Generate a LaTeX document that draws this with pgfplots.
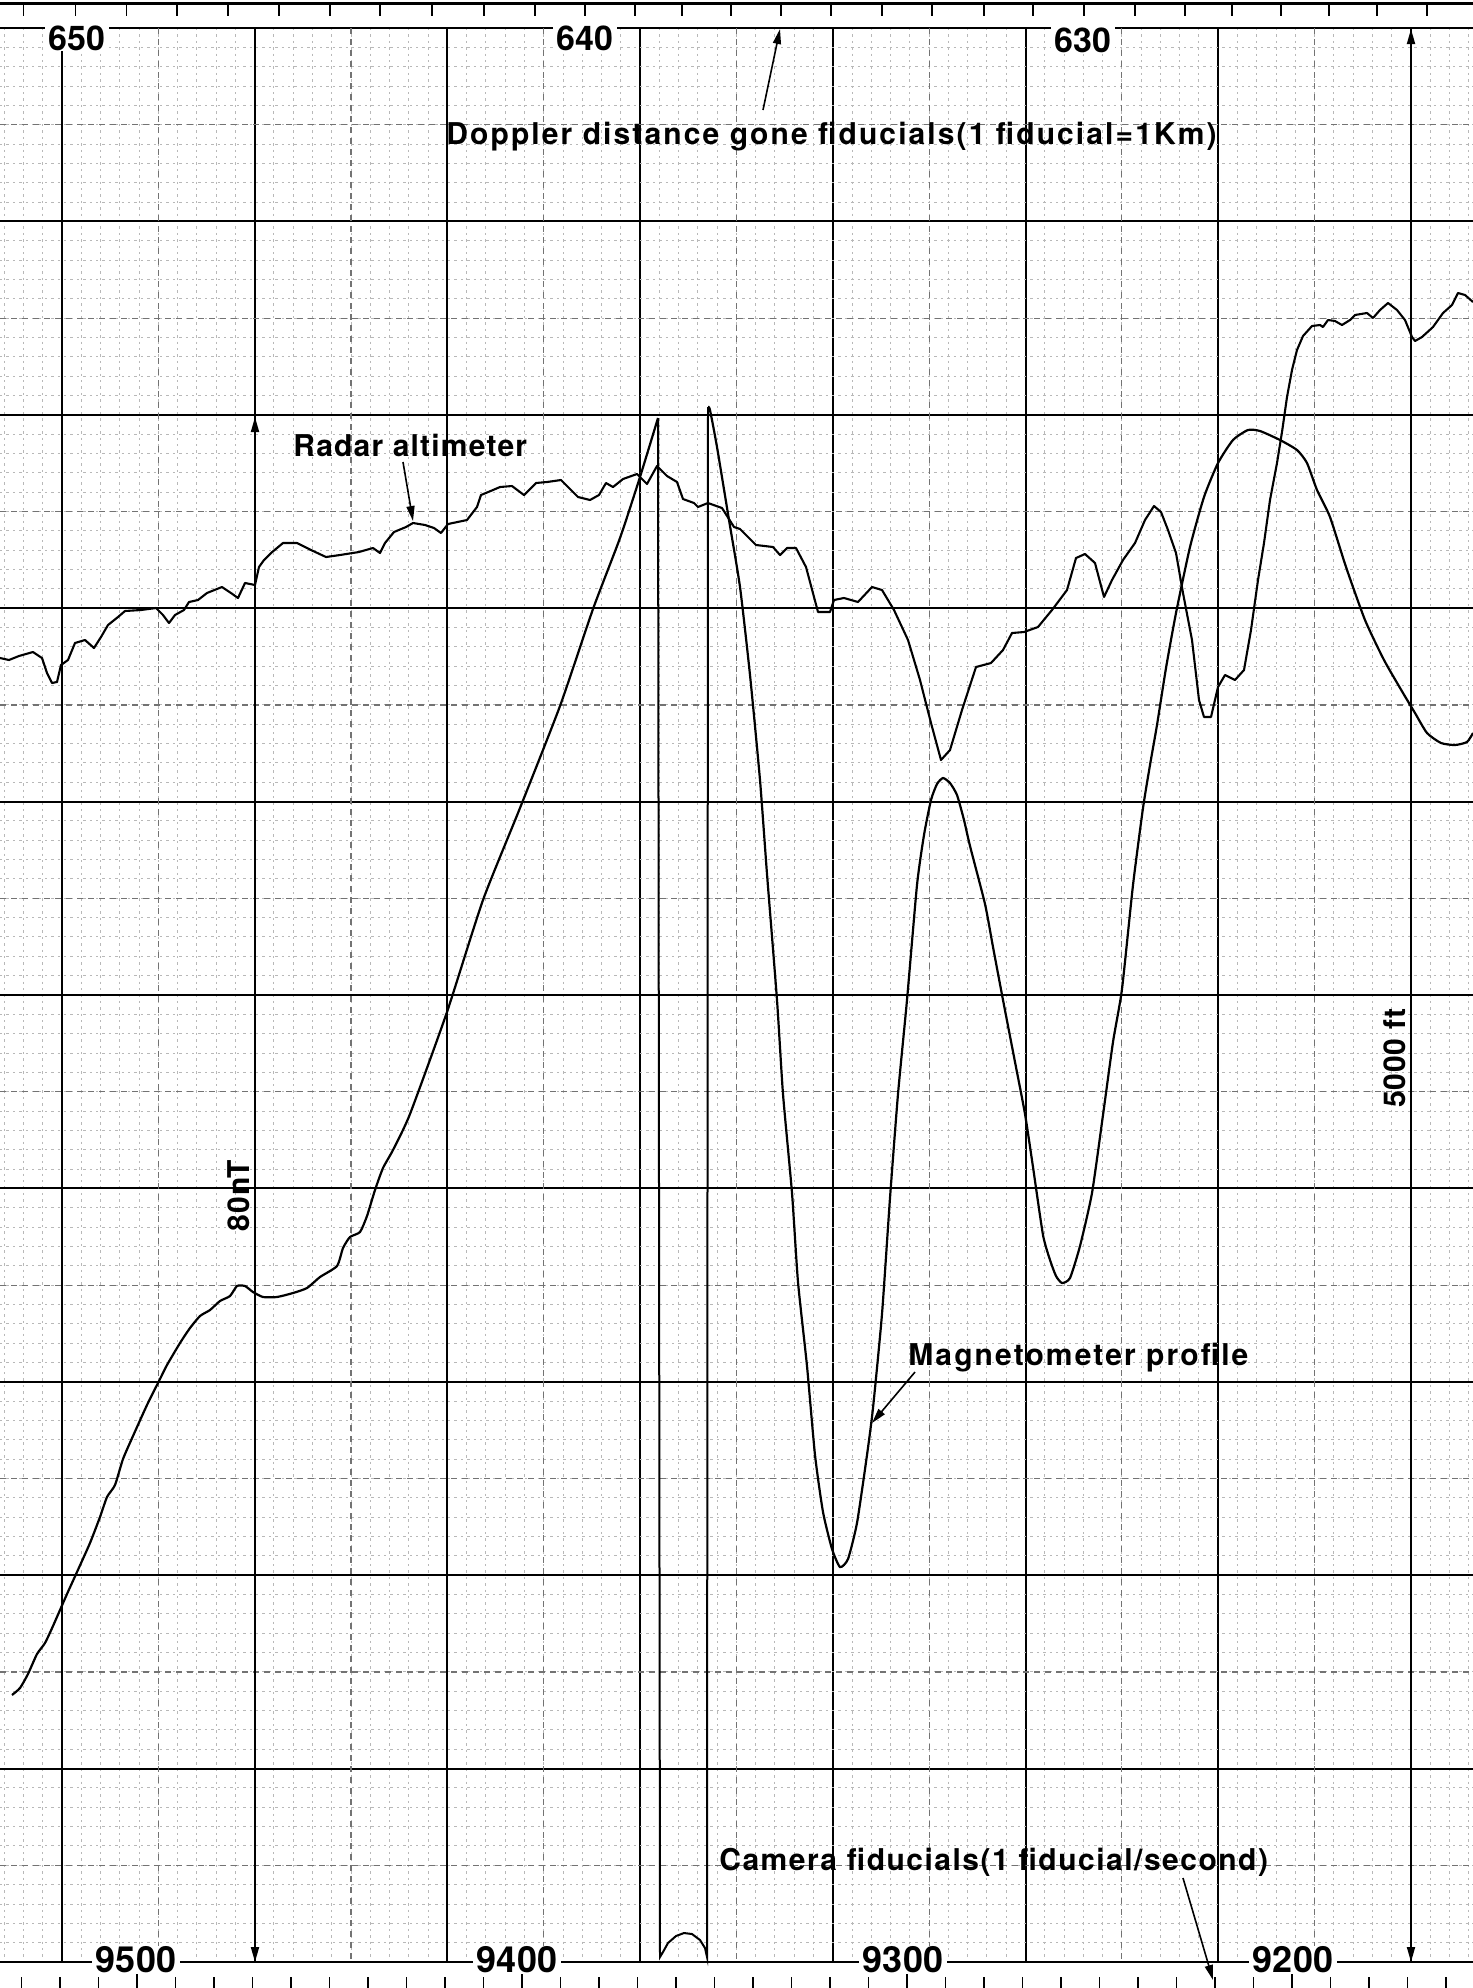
\documentclass[border=0pt]{standalone}
\usepackage{fontspec}
\setmainfont{TeX Gyre Heros}
\usepackage{pgfplots}
\pgfplotsset{compat=1.18}
\usetikzlibrary{arrows.meta}
\newcommand{\lab}[2]{{\fontsize{15}{18}\selectfont\bfseries\addfontfeatures{LetterSpace=#1}#2}}
\newcommand{\tnum}[1]{{\fontsize{17}{20}\selectfont\bfseries #1}}
\newcommand{\bnum}[1]{{\fontsize{18}{21}\selectfont\bfseries #1}}
\tikzset{arr/.style={line width=0.8pt, -{Triangle[length=7.5pt,width=4pt]}},
         darr/.style={line width=0.9pt, {Triangle[length=7.5pt,width=4pt]}-{Triangle[length=7.5pt,width=4pt]}}}
\begin{document}
\begin{tikzpicture}
\begin{axis}[
  width=736.5pt, height=967pt, scale only axis,
  xmin=0, xmax=1473, ymin=28, ymax=1962, y dir=reverse,
  clip=false,
  axis line style={draw=none},
  major tick length=0pt, minor tick length=0pt,
  xtick={62,254.7,447.4,640.1,832.8,1025.5,1218.2,1410.9},
  ytick={28,221.4,414.8,608.2,801.6,995,1188.4,1381.8,1575.2,1768.6,1962},
  xticklabels={}, yticklabels={},
  minor xtick={4.19,23.46,...,1473},
  minor ytick={28,47.34,...,1962},
  extra x ticks={158.35,351.05,543.75,736.45,929.15,1121.85,1314.55},
  extra y ticks={124.7,318.1,511.5,704.9,898.3,1091.7,1285.1,1478.5,1671.9,1865.3},
  extra x tick labels={}, extra y tick labels={},
  extra x tick style={grid=major, major grid style={black!55, dash pattern=on 3pt off 2.5pt, line width=0.6pt}},
  extra y tick style={grid=major, major grid style={black!55, dash pattern=on 3pt off 2.5pt, line width=0.6pt}},
  grid=both,
  major grid style={black, line width=1pt},
  minor grid style={black!28, dash pattern=on 1.2pt off 2pt, line width=0.5pt},
]
% Radar altimeter
\addplot[black, line width=1.05pt, line join=round] coordinates {
(0,658) (9,660) (19,656) (33,652) (42,658) (47,673) (52,683) (57,682) (61,665) (68,660) (75,643) (85,640) (94,648) (101,637) (108,625) (118,617) (125,611) (141,610) (156,608) (163,615) (169,623) (175,615) (184,610) (189,602) (198,600) (207,593) (222,587) (231,593) (238,598) (245,583) (255,585) (259,567) (264,560) (271,553) (283,543) (297,543) (311,550) (326,557) (340,555) (359,552) (373,548) (380,553) (385,543) (394,532) (406,527) (413,523) (425,525) (434,528) (441,533) (448,524) (467,520) (477,507) (481,495) (493,490) (500,487) (512,486) (524,495) (536,483) (547,482) (561,480) (571,490) (578,497) (590,500) (599,495) (606,483) (613,487) (623,479) (637,474) (647,484) (657,466) (667,476) (677,482) (683,499) (694,503) (698,507) (708,503) (722,508) (734,527) (740,529) (756,545) (773,547) (780,555) (787,548) (796,548) (806,567) (818,612) (830,612) (834,600) (844,598) (858,602) (872,587) (882,590) (894,610) (908,640) (920,680) (931,723) (941,760) (950,750) (962,710) (976,667) (991,663) (1003,650) (1012,633) (1024,632) (1038,627) (1052,610) (1067,590) (1076,558) (1085,554) (1095,563) (1104,597) (1112,580) (1123,560) (1135,543) (1145,520) (1154,506) (1161,512) (1168,530) (1176,553) (1183,593) (1192,640) (1199,700) (1204,717) (1211,717) (1218,687) (1225,675) (1235,680) (1244,670) (1251,630) (1258,580) (1264,543) (1270,500) (1277,463) (1282,432) (1287,397) (1292,370) (1297,350) (1303,336) (1312,326) (1320,325) (1323,327) (1328,320) (1335,321) (1342,325) (1350,320) (1355,315) (1367,313) (1373,318) (1380,310) (1388,303) (1397,310) (1405,320) (1412,337) (1415,341) (1422,337) (1433,327) (1443,313) (1452,305) (1458,293) (1465,295) (1473,302)
};
% Magnetometer: rise
\addplot[black, line width=1.1pt, smooth, tension=0.35] coordinates {
(12,1695) (20,1688) (28,1674) (37,1654) (45,1643) (53,1626) (67,1594) (77,1572) (90,1543) (100,1517) (107,1497) (115,1485) (123,1459) (133,1436) (147,1405) (160,1379) (167,1365) (180,1343) (190,1328) (200,1316) (210,1310) (220,1301) (230,1296) (237,1286) (245,1286) (253,1292) (263,1297) (277,1297) (293,1293) (307,1288) (320,1277) (337,1266) (343,1248) (350,1237) (360,1232) (367,1216) (375,1190) (383,1168) (393,1150) (410,1114) (447,1012) (483,900) (520,808) (560,706) (593,609) (620,538) (640,477) (658,418)
};
% Magnetometer: fly-back and wrapped arc
\addplot[black, line width=1pt] coordinates {
(658,418) (660,1957) (663,1952) (668,1943) (676,1936) (684,1933) (692,1934) (700,1940) (705,1948) (707,1957) (708,407)
};
% Magnetometer: descent and following anomalies
\addplot[black, line width=1.1pt, smooth, tension=0.35] coordinates {
(708,407) (710,410) (717,447) (729,520) (740,587) (750,675) (760,780) (767,874) (777,1000) (783,1094) (792,1193) (798,1282) (807,1366) (815,1455) (823,1512) (832,1549) (840,1567) (848,1559) (857,1523) (867,1455) (873,1408) (882,1314) (890,1198) (898,1094) (907,1000) (917,885) (924,835) (931,800) (937,784) (943,778) (950,783) (957,795) (964,820) (970,846) (985,904) (993,947) (1003,1000) (1015,1062) (1025,1114) (1033,1167) (1043,1235) (1050,1260) (1056,1276) (1062,1283) (1070,1278) (1080,1246) (1092,1193) (1103,1115) (1113,1042) (1122,989) (1133,885) (1143,808) (1150,765) (1157,725) (1166,668) (1176,613) (1190,547) (1204,497) (1218,463) (1233,440) (1248,430) (1260,431) (1280,440) (1297,450) (1307,463) (1317,490) (1330,517) (1346,567) (1365,620) (1384,660) (1403,693) (1415,713) (1427,733) (1441,743) (1455,745) (1467,742) (1473,733)
};
% top border and Doppler fiducial ticks
\draw[line width=1.5pt] (axis cs:0,3) -- (axis cs:1473,3);
\pgfplotsinvokeforeach{23.6,75.5,126.5,177,228,279,330,380,432,484,535,585,635,682,731,781,831,882,932,984,1033,1084,1135,1185,1232,1281,1329,1377,1427}{
  \draw[line width=0.8pt] (axis cs:#1,3) -- (axis cs:#1,16);
}
% camera fiducial ticks
\pgfplotsinvokeforeach{21.5,60,98.5,175.5,214,252.5,291,329.5,368,406.5,445,483.5,560.5,599,637.5,676,714.5,753,791.5,830,868.5,945.5,984,1022.5,1061,1099.5,1138,1176.5,1215,1253.5,1330.5,1369,1407.5,1446}{
  \draw[line width=0.8pt] (axis cs:#1,1977) -- (axis cs:#1,1988);
}
\pgfplotsinvokeforeach{137,522,907,1292}{
  \draw[line width=0.8pt] (axis cs:#1,1970) -- (axis cs:#1,1988);
}
% scale arrows
\draw[darr] (axis cs:255,417) -- (axis cs:255,1962);
\draw[darr] (axis cs:1411,29) -- (axis cs:1411,1962);
% pointer arrows
\draw[arr] (axis cs:763,110) -- (axis cs:780,29);
\draw[arr] (axis cs:403,462) -- (axis cs:413,521);
\draw[arr] (axis cs:915,1372) -- (axis cs:872,1423);
\draw[arr] (axis cs:1183,1878) -- (axis cs:1213,1980);
% labels
\node[anchor=base west, inner sep=0] at (axis cs:446,144) {\lab{7}{Doppler distance gone fiducials(1 fiducial=1Km)}};
\node[anchor=base west, inner sep=0] at (axis cs:293,456) {\lab{4}{Radar altimeter}};
\node[anchor=base west, inner sep=0] at (axis cs:908,1365) {\lab{7}{Magnetometer profile}};
\node[anchor=base west, inner sep=0] at (axis cs:719,1870) {\lab{5}{Camera fiducials(1 fiducial/second)}};
\node[rotate=90, anchor=base, inner sep=0] at (axis cs:249,1196) {\lab{4}{80nT}};
\node[rotate=90, anchor=base, inner sep=0] at (axis cs:1405,1058) {\lab{2}{5000 ft}};
% Doppler numbers
\node[fill=white, inner xsep=2pt, inner ysep=0.5pt] at (axis cs:77,38) {\tnum{650}};
\node[fill=white, inner xsep=2pt, inner ysep=0.5pt] at (axis cs:585,38) {\tnum{640}};
\node[fill=white, inner xsep=2pt, inner ysep=0.5pt] at (axis cs:1083,40) {\tnum{630}};
% camera numbers
\node[fill=white, inner xsep=2pt, inner ysep=0.5pt] at (axis cs:136,1960) {\bnum{9500}};
\node[fill=white, inner xsep=2pt, inner ysep=0.5pt] at (axis cs:517,1960) {\bnum{9400}};
\node[fill=white, inner xsep=2pt, inner ysep=0.5pt] at (axis cs:903,1960) {\bnum{9300}};
\node[fill=white, inner xsep=2pt, inner ysep=0.5pt] at (axis cs:1293,1960) {\bnum{9200}};
\coordinate (BBa) at (axis cs:0,0);
\coordinate (BBb) at (axis cs:1473,1988);
\end{axis}
\pgfresetboundingbox
\path[use as bounding box] (BBa) rectangle (BBb);
\end{tikzpicture}
\end{document}
